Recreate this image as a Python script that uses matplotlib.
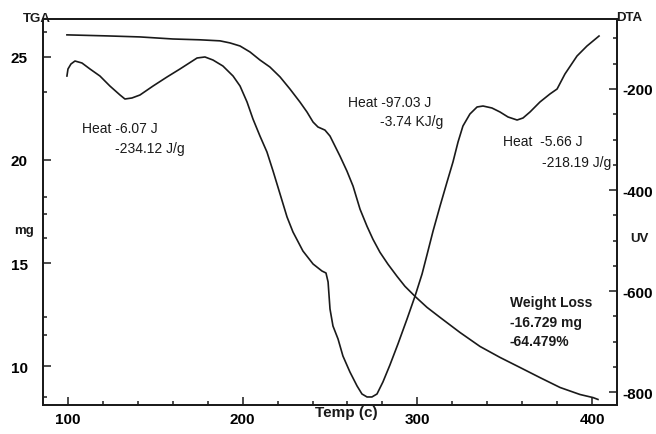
import numpy as np
import matplotlib.pyplot as plt
from matplotlib.ticker import MultipleLocator, FixedLocator

# TGA curve (weight, mg)
tga_temp = [99.4, 122.3, 141.2, 160.1, 175.6, 187.0, 192.7, 198.5, 204.2, 209.9,
            215.6, 221.4, 227.1, 232.8, 236.8, 240.3, 243.1, 247.1, 250.0, 255.7,
            259.7, 263.2, 267.2, 271.2, 274.6, 278.6, 283.2, 288.4, 292.9, 298.7,
            305.5, 313.0, 324.4, 335.9, 347.3, 358.8, 370.2, 381.7, 393.1, 400.6,
            403.4]
tga_mg = [26.07, 26.02, 25.97, 25.87, 25.83, 25.78, 25.68, 25.53, 25.24, 24.85,
          24.51, 24.03, 23.44, 22.81, 22.33, 21.84, 21.60, 21.45, 21.16, 20.19,
          19.46, 18.73, 17.61, 16.78, 16.15, 15.52, 14.94, 14.35, 13.87, 13.38,
          12.85, 12.36, 11.63, 10.95, 10.42, 9.93, 9.44, 8.96, 8.62, 8.47,
          8.38]

# DTA curve (uV)
dta_temp = [99.4, 100.0, 101.7, 104.0, 108.0, 112.6, 118.3, 124.0, 129.8, 132.6,
            136.6, 141.2, 148.7, 156.7, 164.1, 173.9, 178.4, 183.0, 188.7, 194.5,
            198.5, 202.5, 205.9, 209.9, 213.9, 217.4, 221.4, 225.4, 228.8, 234.5,
            240.3, 245.4, 247.7, 248.9, 250.0, 251.7, 254.6, 257.4, 261.4, 265.5,
            268.3, 271.2, 274.0, 276.9, 280.3, 284.3, 288.9, 294.1, 298.7, 302.7,
            305.5, 309.0, 313.0, 317.0, 320.4, 323.3, 326.1, 330.1, 334.2, 337.6,
            342.7, 347.3, 351.9, 357.1, 360.5, 364.5, 370.2, 375.9, 380.0, 384.5,
            391.4, 397.1, 404.0]
dta_uv = [-174.3, -160.4, -150.5, -144.6, -148.5, -160.4, -174.3, -194.1, -211.9, -219.8,
          -217.8, -211.9, -194.1, -176.2, -160.4, -138.6, -136.6, -142.6, -154.5, -174.3,
          -194.1, -225.7, -259.4, -293.1, -324.7, -362.4, -407.9, -453.4, -483.1, -520.8,
          -546.5, -560.4, -564.3, -582.1, -635.6, -669.3, -695.0, -728.7, -760.3, -788.1,
          -803.9, -809.8, -809.8, -803.9, -780.1, -746.5, -704.9, -655.4, -609.9, -566.3,
          -528.7, -481.2, -431.7, -384.1, -344.5, -304.9, -273.3, -249.5, -235.6, -233.7,
          -237.6, -245.5, -255.4, -261.4, -257.4, -245.5, -225.7, -209.9, -200.0, -170.3,
          -134.7, -114.9, -95.1]

xticks = [100, 200, 300, 400]
mg_ticks = [10, 15, 20, 25]
mg_minor = [8.5, 11.5, 12.4, 16.2, 17.4, 18.2, 23.3, 26.2]
uv_ticks = [-800, -600, -400, -200]

plt.rcParams['font.family'] = ['Liberation Sans', 'DejaVu Sans']
plt.rcParams['axes.unicode_minus'] = False
col = '#1a1a1a'

fig = plt.figure(figsize=(6.56, 4.35), dpi=100)
ax = fig.add_axes([43/656, 1-406/435, 574/656, 386/435])
ax2 = ax.twinx()

ax.plot(tga_temp, tga_mg, color=col, lw=1.2)
ax2.plot(dta_temp, dta_uv, color=col, lw=1.2)

ax.set_xlim(85.7, 414.3)
ax.set_ylim(8.11, 26.84)
ax2.set_ylim(-825.7, -61.4)

ax.set_xticks(xticks)
ax.xaxis.set_minor_locator(FixedLocator(np.arange(120, 400, 20)))
ax.set_yticks(mg_ticks)
ax.yaxis.set_minor_locator(FixedLocator(mg_minor))
ax2.set_yticks(uv_ticks)
ax2.yaxis.set_minor_locator(MultipleLocator(50))

ax.tick_params(which='both', direction='in', width=1.1, color=col)
ax.tick_params(which='major', length=6)
ax.tick_params(which='minor', length=3)
ax.tick_params(axis='y', pad=11, labelsize=11)
ax.tick_params(axis='x', pad=5, labelsize=11)
ax2.tick_params(which='both', direction='in', width=1.1, color=col)
ax2.tick_params(which='major', length=6, pad=4, labelsize=11)
ax2.tick_params(which='minor', length=3)
for lab in ax.get_xticklabels() + ax.get_yticklabels() + ax2.get_yticklabels():
    lab.set_fontweight('bold')

for a in (ax, ax2):
    for s in a.spines.values():
        s.set_linewidth(1.3)
        s.set_color(col)

def ftext(px, py, s, **kw):
    fig.text(px/656, 1-py/435, s, va='center', color=col, **kw)

ftext(37, 19, 'TGA', ha='center', fontsize=9.5, fontweight='bold')
ftext(629, 18, 'DTA', ha='center', fontsize=9.5, fontweight='bold')
ftext(24, 231, 'mg', ha='center', fontsize=9.5, fontweight='bold')
ftext(639, 239, 'UV', ha='center', fontsize=9.5, fontweight='bold')
ftext(346, 413, 'Temp (c)', ha='center', fontsize=11, fontweight='bold')

ftext(82, 129, 'Heat -6.07 J', ha='left', fontsize=10)
ftext(115, 149, '-234.12 J/g', ha='left', fontsize=10)
ftext(348, 103, 'Heat -97.03 J', ha='left', fontsize=10)
ftext(380, 122, '-3.74 KJ/g', ha='left', fontsize=10)
ftext(503, 142, 'Heat  -5.66 J', ha='left', fontsize=10)
ftext(542, 163, '-218.19 J/g', ha='left', fontsize=10)
ftext(510, 303, 'Weight Loss', ha='left', fontsize=10, fontweight='bold')
ftext(510, 323, '-16.729 mg', ha='left', fontsize=10, fontweight='bold')
ftext(510, 342, '-64.479%', ha='left', fontsize=10, fontweight='bold')

plt.savefig('out.png', dpi=100)
